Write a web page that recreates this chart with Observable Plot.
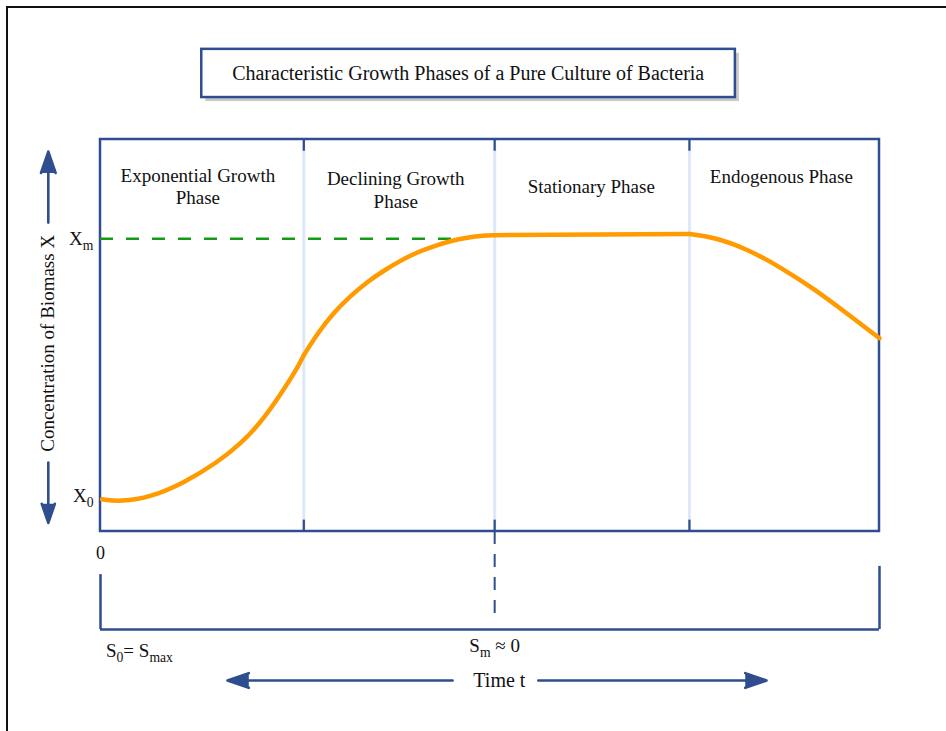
<!DOCTYPE html>
<html><head><meta charset="utf-8">
<script src="https://cdn.jsdelivr.net/npm/d3@7"></script>
<script src="https://cdn.jsdelivr.net/npm/@observablehq/plot@0.6"></script>
<style>
html,body{margin:0;padding:0;background:#fff;overflow:hidden;width:946px;height:731px}
#frame{position:absolute;left:6px;top:6px;width:2000px;height:2000px;border-left:2px solid #111;border-top:2px solid #111;}
#chart{position:absolute;left:0;top:0}
</style></head>
<body><div id="frame"></div><div id="chart"></div>
<script>
// ---- data ----
const title = "Characteristic Growth Phases of a Pure Culture of Bacteria";
const phaseNames = ["Exponential Growth\nPhase", "Declining Growth\nPhase", "Stationary Phase", "Endogenous Phase"];
const phaseBounds = [0, 26.1, 50.6, 75.6, 100];           // time (% of run)
const curveSegment = [1,1,1,1,1,1,1,1,1,1, 2,2,2,2,2,2,2,2,2,2,2,2,2, 3,3, 4,4,4,4,4,4,4];
const curveTime    = [0.2,2.6,6.4,10.7,15.0,18.0,20.5,23.1,25.3,26.1,
                      26.1,27.8,29.9,32.1,34.2,36.4,38.5,40.6,42.8,44.9,47.1,49.2,50.6,
                      50.6,75.6,
                      75.6,78.7,83.0,87.3,91.6,95.9,100];
const curveBiomass = [8.2,7.6,8.7,12.4,17.6,22.4,27.6,34.9,41.8,45.0,
                      45.0,50.4,55.8,60.1,63.6,66.6,69.1,71.2,72.8,74.1,75.0,75.5,75.6,
                      75.6,75.9,
                      75.9,75.1,72.1,67.4,61.9,55.5,49.3];
const xmLevel = 74.7, x0Level = 9.2;
const yTickLabels = ["X_{m}", "X_{0}"];
const yTickValues = [xmLevel, x0Level];
const yAxisLabel = "Concentration of Biomass X";
const xAxisLabel = "Time t";
const xZeroLabel = "0";
const substrateLabels = ["S_{0}= S_{max}", "S_{m} ≈ 0"];

// ---- build ----
const BLUE = "#2E4E8F", ORANGE = "#FF9A00", GREEN = "#169A16", LIGHT = "#dde8f8";
const FONT = "'Liberation Serif', 'Times New Roman', serif";
const curve = curveTime.map((t,i)=>({t, x: curveBiomass[i], seg: curveSegment[i]}));
const phases = phaseNames.map((name)=>({name}));
const labelPos = [{t:12.5,y:88.2},{t:37.9,y:87.4},{t:63.0,y:88.2},{t:87.4,y:90.8}];
phases.forEach((p,i)=>Object.assign(p,labelPos[i]));
const inner = phaseBounds.slice(1,-1);
const stationary = phaseBounds[2];
const arrowStyle = {stroke: BLUE, fill: BLUE, strokeWidth: 2.6, headLength: 13, headAngle: 38, strokeLinejoin: "miter"};

const svg = Plot.plot({
  width: 946, height: 731,
  marginLeft: 0, marginRight: 0, marginTop: 0, marginBottom: 0,
  style: {fontFamily: FONT, color: "#111", background: "transparent"},
  x: {domain: [0, 100], range: [100, 879], axis: null},
  y: {domain: [0, 100], range: [531, 139], axis: null},
  marks: [
    // title box
    Plot.rect([title], {x1: 13.0, x2: 81.5, y1: 110.7, y2: 123.0, fill: "#c9c9c9", dx: 4, dy: 4}),
    Plot.rect([title], {x1: 13.0, x2: 81.5, y1: 110.7, y2: 123.0, fill: "white", stroke: BLUE, strokeWidth: 2.5}),
    Plot.text([title], {x: 47.2, y: 116.8, text: d=>d, fontSize: 20, fill: "#111"}),
    // phase separators
    Plot.ruleX(inner, {y1: 0, y2: 100, stroke: LIGHT, strokeWidth: 3}),
    Plot.ruleX(inner, {y1: 97.0, y2: 100, stroke: BLUE, strokeWidth: 2.2}),
    Plot.ruleX(inner, {y1: 0, y2: 2.9, stroke: BLUE, strokeWidth: 2.2}),
    // frame
    Plot.rect([0], {x1: 0, x2: 100, y1: 0, y2: 100, fill: "none", stroke: BLUE, strokeWidth: 2.5}),
    // Xm dashed level
    Plot.ruleY([xmLevel], {x1: 0, x2: 45.8, stroke: GREEN, strokeWidth: 2.5, strokeDasharray: "13,13"}),
    // growth curve
    Plot.line(curve, {x: "t", y: "x", z: "seg", curve: "basis", stroke: ORANGE, strokeWidth: 4.5, strokeLinecap: "round"}),
    // phase labels
    Plot.text(phases, {x: "t", y: "y", text: "name", fontSize: 19, lineHeight: 1.2, fill: "#111"}),
    // y tick labels
    Plot.text(yTickLabels, {x: -0.9, y: (d,i)=>yTickValues[i], text: d=>d, textAnchor: "end", fontSize: 19, fill: "#111"}),
    // y axis arrows + label
    Plot.arrow([0], {x1: -6.7, x2: -6.7, y1: 78.8, y2: 96.9, ...arrowStyle}),
    Plot.arrow([0], {x1: -6.7, x2: -6.7, y1: 17.6, y2: 2.2, ...arrowStyle}),
    Plot.text([yAxisLabel], {x: -6.7, y: 48.0, text: d=>d, rotate: -90, fontSize: 19, fill: "#111"}),
    // below box
    Plot.text([xZeroLabel], {x: 0, y: -5.6, text: d=>d, fontSize: 18, fill: "#111"}),
    Plot.ruleX([stationary], {y1: 0, y2: -23.2, stroke: BLUE, strokeWidth: 2, strokeDasharray: "13,10"}),
    Plot.ruleX([0], {y1: -11.0, y2: -25, stroke: BLUE, strokeWidth: 2.5}),
    Plot.ruleX([100], {y1: -8.9, y2: -25, stroke: BLUE, strokeWidth: 2.5}),
    Plot.ruleY([-25], {x1: 0, x2: 100, stroke: BLUE, strokeWidth: 2.5}),
    Plot.text([substrateLabels[0]], {x: 0.7, y: -30.4, text: d=>d, textAnchor: "start", fontSize: 19, fill: "#111"}),
    Plot.text([substrateLabels[1]], {x: stationary, y: -29.3, text: d=>d, fontSize: 19, fill: "#111"}),
    // time arrows
    Plot.arrow([0], {x1: 45.2, x2: 16.3, y1: -38.0, y2: -38.0, ...arrowStyle}),
    Plot.arrow([0], {x1: 56.2, x2: 85.5, y1: -38.0, y2: -38.0, ...arrowStyle}),
    Plot.text([xAxisLabel], {x: 51.2, y: -38.0, text: d=>d, fontSize: 20, fill: "#111"})
  ]
});

// subscripts: "X_{m}" -> X<tspan sub>m</tspan>
d3.select(svg).selectAll("text").each(function(){
  const el = this;
  if (el.querySelector("tspan")) return;
  const s = el.textContent;
  if (!s.includes("_{")) return;
  el.textContent = "";
  const re = /_\{([^}]*)\}/g;
  let last = 0, m, shifted = false;
  const add = (txt, sub) => {
    if (!txt) return;
    const ts = document.createElementNS("http://www.w3.org/2000/svg", "tspan");
    ts.textContent = txt;
    if (sub) { ts.setAttribute("font-size", "0.72em"); if (!shifted) { ts.setAttribute("dy", "5"); shifted = true; } }
    else if (shifted) { ts.setAttribute("dy", "-5"); shifted = false; }
    el.appendChild(ts);
  };
  while ((m = re.exec(s))) { add(s.slice(last, m.index), false); add(m[1], true); last = re.lastIndex; }
  add(s.slice(last), false);
});

document.getElementById("chart").appendChild(svg);
</script>
</body></html>
